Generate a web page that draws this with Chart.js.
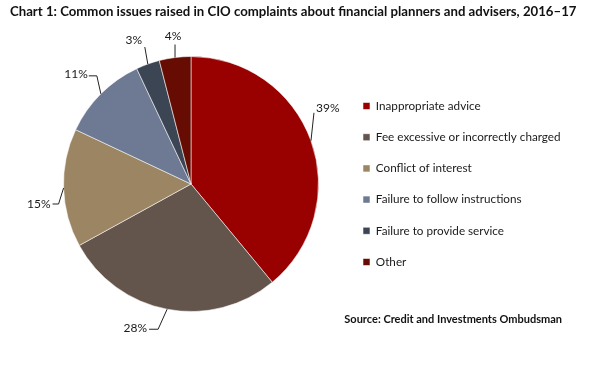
<!DOCTYPE html>
<html>
<head>
<meta charset="utf-8">
<script src="https://cdn.jsdelivr.net/npm/chart.js@4.4.1/dist/chart.umd.min.js"></script>
<style>
  html, body { margin: 0; padding: 0; background: #fff; }
  #wrap { width: 600px; height: 370px; }
</style>
</head>
<body>
<div id="wrap"><canvas id="chart" width="600" height="370"></canvas></div>
<script>
// ================= DATA =================
const categories = [
  "Inappropriate advice",
  "Fee excessive or incorrectly charged",
  "Conflict of interest",
  "Failure to follow instructions",
  "Failure to provide service",
  "Other"
];
const shares = [39, 28, 15, 11, 3, 4];   // % of complaints
const sliceColours = ["#990000", "#64554C", "#9B8562", "#6E7A93", "#3B4553", "#670C02"];

const chartTitle = "Chart 1: Common issues raised in CIO complaints about financial planners and advisers, 2016\u201317";
const sourceNote = "Source: Credit and Investments Ombudsman";

// ================= STYLE =================
const FONT = "Lato, 'Liberation Sans', sans-serif";
const LEGEND_FONT_SIZE = 11.7;
const LEGEND_PAD = 19.5;
const LEGEND_BOX_X = 363;

// leader line shapes, per slice (elbow offset from slice edge, horizontal tail, text placement)
const leaders = [
  { dx: 3,  dy: -28, tail: 0,  align: "left",   tx: 2,   ty: -5 },
  { dx: -9, dy: 20,  tail: -9, align: "right",  tx: -2,  ty: -1 },
  { dx: -5, dy: 16,  tail: -6, align: "right",  tx: -2,  ty: 0 },
  { dx: -4, dy: -18, tail: -8, align: "right",  tx: -1,  ty: -2 },
  { dx: -3, dy: -17, tail: 0,  align: "center", tx: -11, ty: -7 },
  { dx: 0,  dy: -13, tail: 0,  align: "center", tx: -2,  ty: -8 }
];

// ================= LAYOUT (legend width measured) =================
const measureCtx = document.createElement("canvas").getContext("2d");
measureCtx.font = LEGEND_FONT_SIZE + "px " + FONT;
const maxLabelWidth = Math.max(...categories.map(c => measureCtx.measureText(c).width));
const legendWidth = LEGEND_PAD + 7 + LEGEND_FONT_SIZE / 2 + maxLabelWidth + 10;
const legendLeft = LEGEND_BOX_X - LEGEND_PAD;
const padRight = 600 - legendLeft - legendWidth;
const pieCentreX = 191;
const padLeft = pieCentreX * 2 - legendLeft;

// ================= PLUGINS =================
const leaderLabels = {
  id: "leaderLabels",
  afterDatasetsDraw(chart) {
    const ctx = chart.ctx;
    const arcs = chart.getDatasetMeta(0).data;
    ctx.save();
    ctx.font = "12px " + FONT;
    ctx.textBaseline = "middle";
    arcs.forEach((arc, i) => {
      const p = arc.getProps(["x", "y", "startAngle", "endAngle", "outerRadius"], true);
      const mid = (p.startAngle + p.endAngle) / 2;
      const ax = p.x + Math.cos(mid) * p.outerRadius;
      const ay = p.y + Math.sin(mid) * p.outerRadius;
      const L = leaders[i];
      const ex = ax + L.dx, ey = ay + L.dy;
      const tx = ex + L.tail;
      ctx.strokeStyle = "#222";
      ctx.lineWidth = 1;
      ctx.beginPath();
      ctx.moveTo(ax, ay);
      ctx.lineTo(ex, ey);
      if (L.tail) ctx.lineTo(tx, ey);
      ctx.stroke();
      ctx.fillStyle = "#1a1a1a";
      ctx.textAlign = L.align;
      ctx.fillText(shares[i] + "%", tx + L.tx, ey + L.ty);
    });
    ctx.restore();
  }
};

const headerFooter = {
  id: "headerFooter",
  afterDraw(chart) {
    const ctx = chart.ctx;
    ctx.save();
    ctx.fillStyle = "#111";
    ctx.textBaseline = "middle";
    ctx.textAlign = "left";
    ctx.font = "bold 13.2px " + FONT;
    ctx.fillText(chartTitle, 10, 12);
    ctx.font = "bold 11px " + FONT;
    ctx.textAlign = "right";
    ctx.fillText(sourceNote, 562, 319);
    ctx.restore();
  }
};

// ================= CHART =================
const chart = new Chart(document.getElementById("chart"), {
  type: "pie",
  data: {
    labels: categories,
    datasets: [{
      data: shares,
      backgroundColor: sliceColours,
      borderColor: "rgba(255,255,255,0.55)",
      borderWidth: 1
    }]
  },
  options: {
    responsive: false,
    animation: false,
    layout: {
      padding: { top: 56, bottom: 58, left: padLeft, right: padRight }
    },
    plugins: {
      title: { display: false },
      tooltip: { enabled: false },
      legend: {
        position: "right",
        align: "center",
        labels: {
          boxWidth: 7,
          boxHeight: 7,
          padding: LEGEND_PAD,
          color: "#1a1a1a",
          font: { family: FONT, size: LEGEND_FONT_SIZE }
        }
      }
    }
  },
  plugins: [leaderLabels, headerFooter]
});
</script>
</body>
</html>
